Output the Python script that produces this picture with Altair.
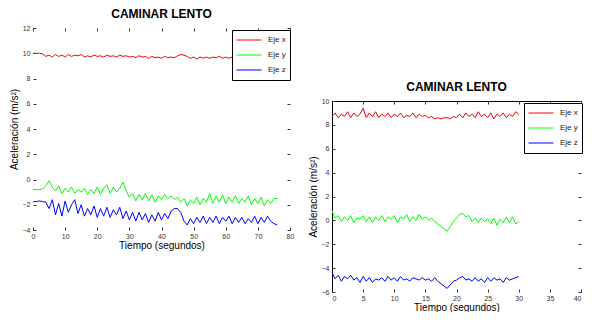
import altair as alt
import pandas as pd

FONT = "Liberation Sans"
TITLE = "CAMINAR LENTO"
X_TITLE = "Tiempo (segundos)"
Y_TITLE = "Aceleración (m/s²)"
SERIES = ["Eje x", "Eje y", "Eje z"]
COLORS = ["#ff0000", "#00ff00", "#0000ff"]

# ---- left panel (0..76 s, 1 s steps) ----
LEFT_TIME = list(range(0, 77))
LEFT_X = [10.0, 10.0, 10.0, 9.95, 9.75, 9.85, 9.7, 9.9, 9.75, 9.85,
          9.7, 9.9, 9.75, 9.85, 9.8, 9.9, 9.7, 9.8, 9.7, 9.85,
          9.75, 9.8, 9.7, 9.85, 9.75, 9.8, 9.7, 9.85, 9.75, 9.8,
          9.7, 9.75, 9.65, 9.8, 9.7, 9.75, 9.6, 9.75, 9.65, 9.7,
          9.6, 9.75, 9.65, 9.7, 9.65, 9.8, 9.9, 9.85, 9.75, 9.6,
          9.7, 9.55, 9.7, 9.6, 9.7, 9.6, 9.7, 9.65, 9.75, 9.6,
          9.7, 9.6, 9.7, 9.55, 9.7, 9.6, 9.75, 9.6, 9.7, 9.55,
          9.7, 9.6, 9.75, 9.6, 9.7, 9.6, 9.65]
LEFT_Y = [-0.8, -0.8, -0.8, -0.75, -0.5, -0.1, -0.6, -0.9, -0.5, -1.1,
          -0.7, -1.0, -0.6, -1.1, -0.8, -1.0, -0.7, -1.2, -0.8, -1.1,
          -0.6, -1.2, -0.7, -0.4, -1.1, -0.6, -1.0, -0.7, -0.2, -0.9,
          -1.4, -1.1, -1.7, -1.2, -1.6, -1.1, -1.7, -1.2, -1.8, -1.3,
          -1.6, -1.2, -1.5, -1.3, -1.6, -1.4, -1.8, -1.5, -2.1, -1.6,
          -1.9, -1.4, -2.0, -1.5, -1.8, -1.1, -1.9, -1.3, -1.8, -1.2,
          -1.9, -1.4, -1.8, -1.3, -1.9, -1.5, -1.8, -1.3, -2.0, -1.5,
          -1.9, -1.4, -2.1, -1.6, -1.9, -1.5, -1.5]
LEFT_Z = [-1.75, -1.75, -1.7, -1.75, -1.8, -2.3, -1.6, -2.8, -1.9, -2.9,
          -1.7, -2.6, -2.0, -1.6, -2.7, -2.0, -2.9, -2.3, -2.8, -2.1,
          -3.0, -2.3, -2.9, -2.2, -3.0, -2.4, -2.8, -2.2, -3.1, -2.5,
          -3.2, -2.6, -3.3, -2.6, -3.2, -2.7, -3.4, -2.8, -3.3, -2.6,
          -3.2, -2.7, -3.1, -2.5, -2.3, -2.3, -2.6, -3.3, -3.6, -3.1,
          -3.5, -3.0, -3.4, -2.9, -3.5, -3.0, -3.4, -2.9, -3.5, -3.0,
          -3.3, -2.9, -3.5, -3.0, -3.4, -3.0, -3.5, -3.1, -3.4, -2.9,
          -3.5, -3.0, -3.4, -2.9, -3.3, -3.5, -3.6]

# ---- right panel (0..30 s, 0.5 s steps) ----
RIGHT_TIME = [i / 2 for i in range(61)]
RIGHT_X = [8.7, 9.0, 8.6, 8.9, 8.7, 9.1, 8.6, 9.0, 8.7, 8.9,
           9.4, 8.6, 9.0, 8.7, 9.1, 8.6, 8.9, 8.7, 9.0, 8.6,
           8.9, 8.7, 9.0, 8.6, 8.8, 8.7, 9.0, 8.6, 8.9, 8.7,
           8.8, 8.6, 8.7, 8.5, 8.6, 8.5, 8.6, 8.6, 8.5, 8.7,
           8.6, 8.9, 8.6, 9.0, 8.7, 8.9, 8.6, 9.1, 8.7, 8.9,
           8.6, 9.0, 8.5, 8.9, 8.7, 9.0, 8.6, 8.9, 8.7, 9.1,
           8.9]
RIGHT_Y = [0.8, 0.2, 0.4, -0.1, 0.3, 0.0, 0.4, -0.2, 0.2, 0.1,
           0.4, -0.1, 0.3, -0.2, 0.3, 0.0, 0.4, -0.1, 0.3, 0.1,
           0.4, -0.2, 0.3, 0.1, 0.5, -0.1, 0.3, 0.0, 0.5, 0.1,
           0.3, 0.0, 0.2, -0.1, -0.3, -0.5, -0.7, -0.9, -0.5, -0.1,
           0.2, 0.5, 0.6, 0.3, 0.4, -0.1, 0.2, -0.2, 0.2, -0.1,
           0.1, -0.3, 0.2, -0.4, 0.1, -0.2, 0.3, -0.2, 0.3, -0.3,
           -0.1]
RIGHT_Z = [-4.4, -4.9, -4.6, -5.1, -4.7, -4.9, -4.6, -5.0, -4.8, -5.2,
           -4.7, -5.1, -4.8, -5.2, -4.9, -5.0, -4.8, -5.1, -4.7, -5.0,
           -4.8, -5.1, -4.7, -5.0, -4.9, -5.1, -4.8, -4.9, -5.0, -4.8,
           -5.0, -4.9, -5.1, -4.8, -5.1, -5.3, -5.5, -5.7, -5.4, -5.1,
           -5.0, -4.8, -4.7, -5.0, -4.9, -5.1, -4.8, -5.1, -4.9, -5.2,
           -4.8, -5.1, -4.8, -5.0, -4.9, -5.2, -4.8, -5.0, -4.9, -4.8,
           -4.7]

LEFT_XTICKS = [0, 10, 20, 30, 40, 50, 60, 70, 80]
LEFT_YTICKS = [-4, -2, 0, 2, 4, 6, 8, 10, 12]
RIGHT_XTICKS = [0, 5, 10, 15, 20, 25, 30, 35, 40]
RIGHT_YTICKS = [-6, -4, -2, 0, 2, 4, 6, 8, 10]


def long_frame(time, xs, ys, zs):
    rows = []
    for name, vals in zip(SERIES, [xs, ys, zs]):
        for t, v in zip(time, vals):
            rows.append({"t": t, "v": v, "serie": name})
    return pd.DataFrame(rows)


def panel(df, xdom, xticks, ydom, yticks, w, h, frame, lx, flush):
    xs = alt.Scale(domain=xdom, nice=False, zero=False)
    ys = alt.Scale(domain=ydom, nice=False, zero=False)
    legend = alt.Legend(title=None, orient="none", legendX=lx, legendY=2,
                        strokeColor="black", fillColor="white", padding=4,
                        symbolType="stroke", symbolSize=625, symbolStrokeWidth=1,
                        labelFont=FONT, labelFontSize=8, labelColor="#222",
                        clipHeight=12, rowPadding=3, labelOffset=6)
    lines = alt.Chart(df).mark_line(strokeWidth=1, clip=True).encode(
        x=alt.X("t:Q", scale=xs,
                axis=alt.Axis(values=xticks, title=X_TITLE, offset=-3, tickSize=3,
                              domain=False, grid=False, labelFlush=flush,
                              tickColor="#333", labelColor="#333",
                              labelFont=FONT, labelFontSize=7, labelPadding=2,
                              titleFont=FONT, titleFontSize=10, titleFontWeight="normal",
                              titlePadding=1, titleColor="black")),
        y=alt.Y("v:Q", scale=ys,
                axis=alt.Axis(values=yticks, title=Y_TITLE, offset=-3, tickSize=3,
                              domain=False, grid=False,
                              tickColor="#333", labelColor="#333",
                              labelFont=FONT, labelFontSize=7, labelPadding=3,
                              titleFont=FONT, titleFontSize=10, titleFontWeight="normal",
                              titlePadding=3, titleColor="black")),
        color=alt.Color("serie:N", scale=alt.Scale(domain=SERIES, range=COLORS),
                        legend=legend),
    )
    ticks = alt.Chart(df).mark_line(opacity=0).encode(
        x=alt.X("t:Q", scale=xs,
                axis=alt.Axis(orient="top", values=xticks, labels=False, title=None,
                              offset=-3, tickSize=3, domain=False, grid=False,
                              tickColor="#333")),
        y=alt.Y("v:Q", scale=ys,
                axis=alt.Axis(orient="right", values=yticks, labels=False, title=None,
                              offset=-3, tickSize=3, domain=False, grid=False,
                              tickColor="#333")),
    )
    layers = [lines, ticks]
    if frame:
        box = alt.Chart(df).mark_line(opacity=0).encode(
            x=alt.X("t:Q", scale=xs,
                    axis=alt.Axis(orient="top", labels=False, ticks=False, title=None,
                                  domain=True, domainColor="black", grid=False)),
            y=alt.Y("v:Q", scale=ys,
                    axis=alt.Axis(orient="left", labels=False, ticks=False, title=None,
                                  domain=True, domainColor="black", grid=False)),
        )
        layers.append(box)
    return alt.layer(*layers).resolve_axis(x="independent", y="independent").properties(
        width=w, height=h,
        title=alt.Title(TITLE, font=FONT, fontSize=12, fontWeight="bold",
                        color="black", anchor="middle", offset=3),
    )


left_df = long_frame(LEFT_TIME, LEFT_X, LEFT_Y, LEFT_Z)
right_df = long_frame(RIGHT_TIME, RIGHT_X, RIGHT_Y, RIGHT_Z)

left = panel(left_df, [0, 80], LEFT_XTICKS, [-4, 12], LEFT_YTICKS, 257, 202,
             False, 199, False)
right = panel(right_df, [0, 40], RIGHT_XTICKS, [-6, 10], RIGHT_YTICKS, 249, 191,
              True, 192, True)

spacer = alt.Chart(pd.DataFrame({"a": [0]})).mark_point(opacity=0).encode(
    x=alt.value(0), y=alt.value(0)
).properties(width=249, height=53)

right_col = alt.vconcat(spacer, right, spacing=0).resolve_legend(
    color="independent"
).resolve_scale(color="independent")

chart = alt.hconcat(left, right_col, spacing=14).resolve_legend(
    color="independent"
).resolve_scale(color="independent").properties(
    padding={"left": 1, "top": 0, "right": 0, "bottom": 0}
).configure(background="white").configure_view(stroke="transparent", strokeWidth=0)

chart.save("out.html", embed_options={"renderer": "svg", "actions": False})
